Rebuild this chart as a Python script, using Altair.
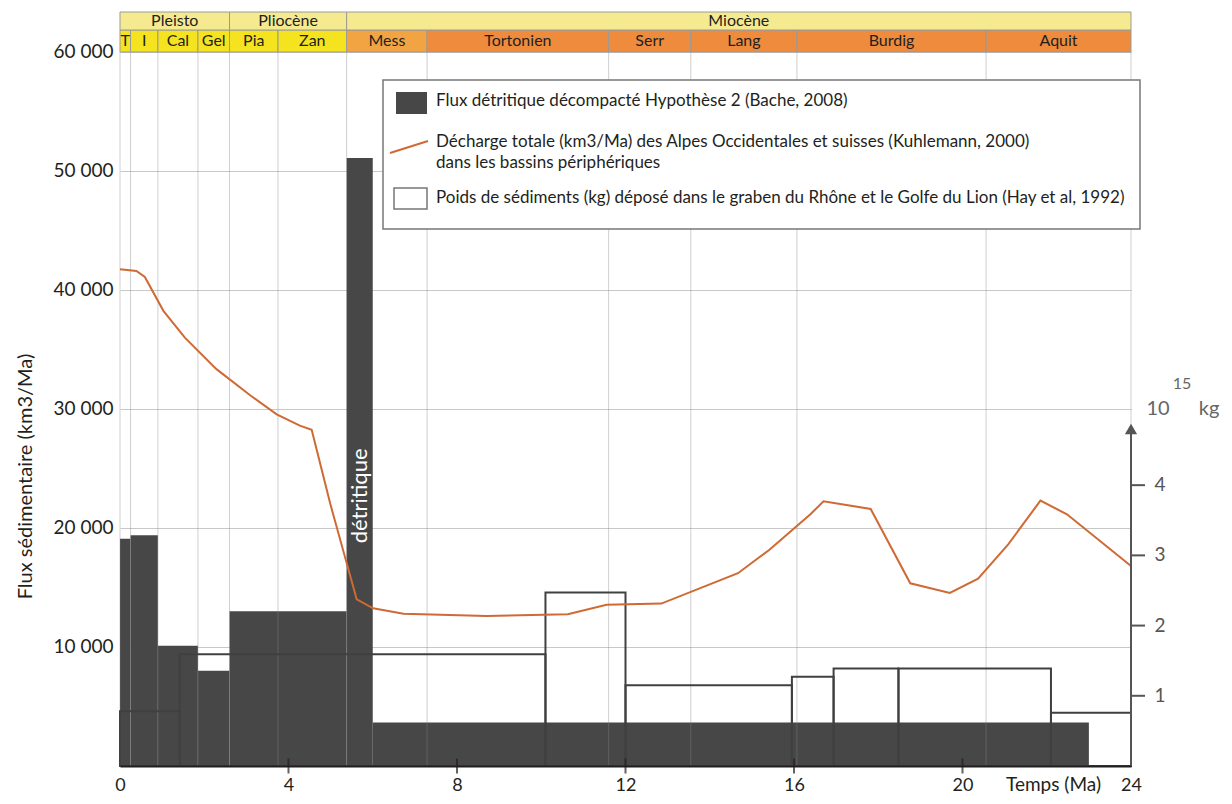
import altair as alt
import pandas as pd

# ---------------- data ----------------
STAGE_NAMES = ["T", "I", "Cal", "Gel", "Pia", "Zan", "Mess", "Tortonien", "Serr", "Lang", "Burdig", "Aquit"]
STAGE_START = [0.0, 0.25, 0.9, 1.85, 2.6, 3.75, 5.38, 7.29, 11.6, 13.55, 16.07, 20.56]
STAGE_END = [0.25, 0.9, 1.85, 2.6, 3.75, 5.38, 7.29, 11.6, 13.55, 16.07, 20.56, 24.0]

EPOCH_NAMES = ["Pleisto", "Pliocène", "Miocène"]
EPOCH_START = [0.0, 2.6, 5.38]
EPOCH_END = [2.6, 5.38, 24.0]

FLUX_START = [0.0, 0.25, 0.9, 1.85, 2.6, 5.38, 6.0]
FLUX_END = [0.25, 0.9, 1.85, 2.6, 5.38, 6.0, 23.0]
FLUX_VALUE = [19100, 19400, 10100, 8000, 13000, 51100, 3650]

KUHL_MA = [0.0, 0.39, 0.59, 1.03, 1.54, 2.29, 3.09, 3.72, 4.27, 4.55, 4.99, 5.62, 6.01, 6.73,
           8.7, 10.63, 11.55, 12.85, 14.67, 15.41, 16.39, 16.7, 17.82, 18.76, 19.7, 20.37,
           21.09, 21.85, 22.48, 24.0]
KUHL_FLUX = [41750, 41600, 41100, 38250, 36000, 33350, 31150, 29550, 28600, 28250, 22050, 14000,
             13250, 12800, 12600, 12750, 13550, 13650, 16200, 18150, 21150, 22250, 21600, 15350,
             14550, 15750, 18650, 22300, 21150, 16800]

HAY_START = [0.0, 1.42, 10.1, 12.0, 15.95, 16.94, 18.48, 22.1]
HAY_END = [1.42, 10.1, 12.0, 15.95, 16.94, 18.48, 22.1, 24.0]
HAY_KG15 = [0.78, 1.59, 2.47, 1.15, 1.27, 1.39, 1.39, 0.76]

X_TICKS = [0, 4, 8, 12, 16, 20, 24]
Y_TICKS = [10000, 20000, 30000, 40000, 50000, 60000]
KG_TICKS = [1, 2, 3, 4]
KG_ARROW = [4.80]

DETRITIC_LABEL = ["détritique"]
LEGEND_LABELS = [
    "Flux détritique décompacté Hypothèse 2 (Bache, 2008)",
    "Décharge totale (km3/Ma) des Alpes Occidentales et suisses (Kuhlemann, 2000)",
    "dans les bassins périphériques",
    "Poids de sédiments (kg) déposé dans le graben du Rhône et le Golfe du Lion (Hay et al, 1992)",
]
UNIT_LABELS = ["10", "15", "kg"]

# ---------------- layout / style ----------------
W, H = 1011, 754
Y_TOP = 63361          # flux value at the top edge of the plot (top of the time-scale band)
BAND_LOW, BAND_MID = 60000, 61849
KG_FACTOR = 5900       # flux units per 10^15 kg on the right-hand axis
X_END = 24
TXT = "#231f20"
BAR = "#474747"
ORANGE = "#cf6a35"
AXIS_GREY = "#555555"
STAGE_COLORS = ["#f5e31f"] * 6 + ["#f2a443"] + ["#ee8b3d"] * 5

xs = alt.Scale(domain=[0, X_END], nice=False, zero=False)
ys = alt.Scale(domain=[0, Y_TOP], nice=False)

x_axis = alt.Axis(values=X_TICKS, title="Temps (Ma)", grid=False, ticks=False, domain=True,
                  domainColor=TXT, domainWidth=2, labelFontSize=18, labelColor=TXT,
                  labelPadding=10, labelFlush=False, labelOverlap=False,
                  titleFontSize=19, titleFontWeight="normal", titleColor=TXT,
                  titleX=933, titleY=9, titleAlign="center", titleBaseline="top", zindex=1)
y_axis = alt.Axis(values=Y_TICKS, title="Flux sédimentaire (km3/Ma)", grid=True,
                  gridColor="#c8c8c8", gridWidth=1, ticks=False, domain=False,
                  labelFontSize=19, labelColor=TXT, labelPadding=7, labelOverlap=False,
                  labelExpr="replace(format(datum.value, ','), ',', ' ')",
                  titleFontSize=20, titleFontWeight="normal", titleColor=TXT, titleAngle=270,
                  titleX=-95, titleY=464, titleAlign="center", titleBaseline="middle")

stages = pd.DataFrame({"name": STAGE_NAMES, "start": STAGE_START, "end": STAGE_END})
epochs = pd.DataFrame({"name": EPOCH_NAMES, "start": EPOCH_START, "end": EPOCH_END})
flux = pd.DataFrame({"start": FLUX_START, "end": FLUX_END, "flux": FLUX_VALUE})
kuhl = pd.DataFrame({"ma": KUHL_MA, "flux": KUHL_FLUX})
hay = pd.DataFrame({"start": HAY_START, "end": HAY_END, "kg": HAY_KG15})
bounds = pd.DataFrame({"b": STAGE_START + [STAGE_END[-1]]})
xt = pd.DataFrame({"t": X_TICKS[1:-1]})
det = pd.DataFrame({"t": DETRITIC_LABEL, "start": [FLUX_START[5]], "end": [FLUX_END[5]]})
kgt = pd.DataFrame({"k": KG_TICKS})
kga = pd.DataFrame({"k": KG_ARROW})

# ---------------- layers ----------------
bars = alt.Chart(flux).mark_rect(color=BAR).encode(
    x=alt.X("start:Q", scale=xs, axis=x_axis), x2="end:Q",
    y=alt.Y("flux:Q", scale=ys, axis=y_axis), y2=alt.Y2Datum(0))

vgrid = alt.Chart(bounds).transform_calculate(lo="0", hi=str(BAND_LOW)).mark_rule(
    color="#888888", opacity=0.4, strokeWidth=1).encode(
    x=alt.X("b:Q"), y=alt.Y("lo:Q"), y2="hi:Q")

hay_rect = alt.Chart(hay).transform_calculate(
    f=f"datum.kg * {KG_FACTOR}", lo="0").mark_rect(
    fillOpacity=0, stroke="#404040", strokeWidth=2).encode(
    x=alt.X("start:Q"), x2="end:Q", y=alt.Y("f:Q"), y2="lo:Q")

line = alt.Chart(kuhl).mark_line(color=ORANGE, strokeWidth=2).encode(
    x=alt.X("ma:Q"), y=alt.Y("flux:Q"))

band_low = alt.Chart(stages).transform_calculate(lo=str(BAND_LOW), hi=str(BAND_MID)).mark_rect(
    stroke="#9a9a9a", strokeWidth=1).encode(
    x=alt.X("start:Q"), x2="end:Q", y=alt.Y("lo:Q"), y2="hi:Q",
    color=alt.Color("name:N", scale=alt.Scale(domain=STAGE_NAMES, range=STAGE_COLORS), legend=None))
band_low_txt = alt.Chart(stages).transform_calculate(
    mid="(datum.start + datum.end) / 2", yy=str((BAND_LOW + BAND_MID) / 2)).mark_text(
    fontSize=16, color=TXT, baseline="middle").encode(
    x=alt.X("mid:Q"), y=alt.Y("yy:Q"), text="name:N")
band_top = alt.Chart(epochs).transform_calculate(lo=str(BAND_MID), hi=str(Y_TOP)).mark_rect(
    fill="#f6ea90", stroke="#9a9a9a", strokeWidth=1).encode(
    x=alt.X("start:Q"), x2="end:Q", y=alt.Y("lo:Q"), y2="hi:Q")
band_top_txt = alt.Chart(epochs).transform_calculate(
    mid="(datum.start + datum.end) / 2", yy=str((BAND_MID + Y_TOP) / 2)).mark_text(
    fontSize=16, color=TXT, baseline="middle").encode(
    x=alt.X("mid:Q"), y=alt.Y("yy:Q"), text="name:N")

xticks = alt.Chart(xt).transform_calculate(lo="0").mark_tick(
    orient="vertical", size=15, thickness=2, color=TXT).encode(
    x=alt.X("t:Q"), y=alt.Y("lo:Q"))

det_txt = alt.Chart(det).transform_calculate(
    mid="(datum.start + datum.end) / 2", yy="22700").mark_text(
    angle=270, fontSize=22, color="white", align="center", baseline="middle").encode(
    x=alt.X("mid:Q"), y=alt.Y("yy:Q"), text="t:N")

# right-hand 10^15 kg axis, placed through the flux scale
spine = alt.Chart(kga).transform_calculate(
    f=f"datum.k * {KG_FACTOR} - 200", lo="0", xx=str(X_END)).mark_rule(
    color=AXIS_GREY, strokeWidth=2).encode(x=alt.X("xx:Q"), y=alt.Y("lo:Q"), y2="f:Q")
arrow = alt.Chart(kga).transform_calculate(
    f=f"datum.k * {KG_FACTOR}", xx=str(X_END)).mark_point(
    shape="triangle-up", filled=True, size=150, color=AXIS_GREY, opacity=1).encode(
    x=alt.X("xx:Q"), y=alt.Y("f:Q"))
kg_ticks = alt.Chart(kgt).transform_calculate(
    f=f"datum.k * {KG_FACTOR}", xx=str(X_END)).mark_rule(
    color=AXIS_GREY, strokeWidth=2).encode(
    x=alt.X("xx:Q"), x2=alt.value(W + 14), y=alt.Y("f:Q"))
kg_labels = alt.Chart(kgt).transform_calculate(
    f=f"datum.k * {KG_FACTOR}", xx=str(X_END)).mark_text(
    fontSize=19, color=AXIS_GREY, align="center", baseline="middle", dx=29).encode(
    x=alt.X("xx:Q"), y=alt.Y("f:Q"), text="k:Q")

# legend (drawn by hand, positions in pixels of the plot area)
one = pd.DataFrame({"t": [""]})
leg_box = alt.Chart(one).mark_rect(fill="white", stroke="#777777", strokeWidth=1.5).encode(
    x=alt.value(263), x2=alt.value(1020), y=alt.value(68), y2=alt.value(217))
leg_sq1 = alt.Chart(one).mark_rect(color=BAR).encode(
    x=alt.value(276), x2=alt.value(307), y=alt.value(80), y2=alt.value(102))
leg_line = alt.Chart(one).mark_rule(color=ORANGE, strokeWidth=2).encode(
    x=alt.value(270), y=alt.value(141), x2=alt.value(308), y2=alt.value(129))
leg_sq2 = alt.Chart(one).mark_rect(fill="white", stroke="#777777", strokeWidth=1.5).encode(
    x=alt.value(274), x2=alt.value(307), y=alt.value(176), y2=alt.value(197))


def px_text(label, xpx, ypx, size, color, align="left"):
    return alt.Chart(pd.DataFrame({"t": [label]})).mark_text(
        align=align, baseline="middle", fontSize=size, color=color).encode(
        x=alt.value(xpx), y=alt.value(ypx), text="t:N")


leg_texts = [px_text(LEGEND_LABELS[0], 316, 89, 17, TXT), px_text(LEGEND_LABELS[1], 316, 130, 17, TXT),
             px_text(LEGEND_LABELS[2], 316, 151, 17, TXT), px_text(LEGEND_LABELS[3], 316, 186, 17, TXT)]
units = [px_text(UNIT_LABELS[0], 1038, 397, 20, "#666666", "center"),
         px_text(UNIT_LABELS[1], 1062, 372, 16, "#666666", "center"),
         px_text(UNIT_LABELS[2], 1089, 397, 20, "#666666", "center")]

chart = alt.layer(
    bars, vgrid, hay_rect, line, band_low, band_top, band_low_txt, band_top_txt,
    xticks, det_txt, spine, arrow, kg_ticks, kg_labels,
    leg_box, leg_sq1, leg_line, leg_sq2, *leg_texts, *units
).properties(
    width=W, height=H,
    padding={"left": 112, "top": 4, "right": 93, "bottom": 30},
    autosize=alt.AutoSizeParams(type="none"),
).configure(font="Lato", background="white").configure_view(stroke=None)

chart.save("out.html", embed_options={"renderer": "svg", "actions": False})
